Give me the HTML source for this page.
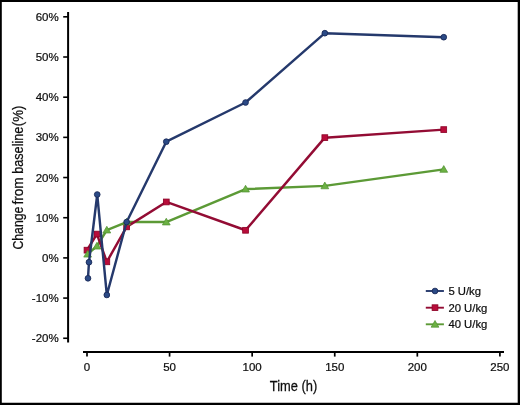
<!DOCTYPE html><html><head><meta charset="utf-8"><style>html,body{margin:0;padding:0;background:#fff}svg{display:block;will-change:transform}text{font-family:"Liberation Sans",sans-serif;fill:#0e0e0e;stroke:#0e0e0e;stroke-width:0.22px}.t{stroke-width:0.25px}</style></head><body>
<svg width="520" height="405" viewBox="0 0 520 405">
<rect x="0" y="0" width="520" height="405" fill="#fff"/>
<path d="M0 0H520V405H0Z M1.8 1.9V402.7H517.7V1.9Z" fill="#000" fill-rule="evenodd"/>
<line x1="68.1" y1="12" x2="68.1" y2="342.6" stroke="#000" stroke-width="2"/>
<line x1="63.2" y1="338.26" x2="68" y2="338.26" stroke="#000" stroke-width="1.6"/>
<text x="58.7" y="342.36" font-size="11.5" text-anchor="end">-20%</text>
<line x1="63.2" y1="298.08" x2="68" y2="298.08" stroke="#000" stroke-width="1.6"/>
<text x="58.7" y="302.18" font-size="11.5" text-anchor="end">-10%</text>
<line x1="63.2" y1="257.90" x2="68" y2="257.90" stroke="#000" stroke-width="1.6"/>
<text x="58.7" y="262.00" font-size="11.5" text-anchor="end">0%</text>
<line x1="63.2" y1="217.72" x2="68" y2="217.72" stroke="#000" stroke-width="1.6"/>
<text x="58.7" y="221.82" font-size="11.5" text-anchor="end">10%</text>
<line x1="63.2" y1="177.54" x2="68" y2="177.54" stroke="#000" stroke-width="1.6"/>
<text x="58.7" y="181.64" font-size="11.5" text-anchor="end">20%</text>
<line x1="63.2" y1="137.36" x2="68" y2="137.36" stroke="#000" stroke-width="1.6"/>
<text x="58.7" y="141.46" font-size="11.5" text-anchor="end">30%</text>
<line x1="63.2" y1="97.18" x2="68" y2="97.18" stroke="#000" stroke-width="1.6"/>
<text x="58.7" y="101.28" font-size="11.5" text-anchor="end">40%</text>
<line x1="63.2" y1="57.00" x2="68" y2="57.00" stroke="#000" stroke-width="1.6"/>
<text x="58.7" y="61.10" font-size="11.5" text-anchor="end">50%</text>
<line x1="63.2" y1="16.82" x2="68" y2="16.82" stroke="#000" stroke-width="1.6"/>
<text x="58.7" y="20.92" font-size="11.5" text-anchor="end">60%</text>
<line x1="83" y1="351.9" x2="504" y2="351.9" stroke="#000" stroke-width="2"/>
<line x1="87.00" y1="352" x2="87.00" y2="356.6" stroke="#000" stroke-width="1.7"/>
<text x="87.00" y="370.8" font-size="11.5" text-anchor="middle">0</text>
<line x1="169.58" y1="352" x2="169.58" y2="356.6" stroke="#000" stroke-width="1.7"/>
<text x="169.58" y="370.8" font-size="11.5" text-anchor="middle">50</text>
<line x1="252.16" y1="352" x2="252.16" y2="356.6" stroke="#000" stroke-width="1.7"/>
<text x="252.16" y="370.8" font-size="11.5" text-anchor="middle">100</text>
<line x1="334.74" y1="352" x2="334.74" y2="356.6" stroke="#000" stroke-width="1.7"/>
<text x="334.74" y="370.8" font-size="11.5" text-anchor="middle">150</text>
<line x1="417.32" y1="352" x2="417.32" y2="356.6" stroke="#000" stroke-width="1.7"/>
<text x="417.32" y="370.8" font-size="11.5" text-anchor="middle">200</text>
<line x1="499.90" y1="352" x2="499.90" y2="356.6" stroke="#000" stroke-width="1.7"/>
<text x="499.90" y="370.8" font-size="11.5" text-anchor="middle">250</text>
<text class="t" x="293.5" y="390.8" font-size="14" text-anchor="middle" transform="translate(293.5 0) scale(0.92 1) translate(-293.5 0)">Time (h)</text>
<text class="t" font-size="14" text-anchor="start" transform="translate(22.8 249.6) rotate(-90) scale(0.878 1)">Change</text>
<text class="t" font-size="14" text-anchor="start" transform="translate(22.8 204.6) rotate(-90) scale(0.978 1)">from</text>
<text class="t" font-size="14" text-anchor="end" transform="translate(22.8 126.6) rotate(-90) scale(0.906 1)">baseline</text>
<text class="t" font-size="14" text-anchor="start" transform="translate(22.8 126.2) rotate(-90) scale(0.95 1)">(%)</text>
<polyline points="87.66,254.18 96.91,246.15 106.82,230.07 126.64,222.04 166.28,222.04 245.55,189.09 324.83,185.88 443.75,169.40" fill="none" stroke="#5c9a36" stroke-width="2.45" stroke-linejoin="round"/>
<polyline points="87.00,250.16 96.91,234.09 106.82,261.82 126.64,226.86 166.28,201.95 245.55,230.27 324.83,137.66 443.75,129.62" fill="none" stroke="#930c34" stroke-width="2.45" stroke-linejoin="round"/>
<rect x="84.10" y="247.26" width="5.8" height="5.8" fill="#b80c3a" stroke="#8a0025" stroke-width="0.8"/>
<rect x="94.01" y="231.19" width="5.8" height="5.8" fill="#b80c3a" stroke="#8a0025" stroke-width="0.8"/>
<rect x="103.92" y="258.92" width="5.8" height="5.8" fill="#b80c3a" stroke="#8a0025" stroke-width="0.8"/>
<rect x="123.74" y="223.96" width="5.8" height="5.8" fill="#b80c3a" stroke="#8a0025" stroke-width="0.8"/>
<rect x="163.38" y="199.05" width="5.8" height="5.8" fill="#b80c3a" stroke="#8a0025" stroke-width="0.8"/>
<rect x="242.65" y="227.37" width="5.8" height="5.8" fill="#b80c3a" stroke="#8a0025" stroke-width="0.8"/>
<rect x="321.93" y="134.76" width="5.8" height="5.8" fill="#b80c3a" stroke="#8a0025" stroke-width="0.8"/>
<rect x="440.85" y="126.72" width="5.8" height="5.8" fill="#b80c3a" stroke="#8a0025" stroke-width="0.8"/>
<polygon points="87.66,250.38 91.56,257.08 83.76,257.08" fill="#6cb143" stroke="#4f8f30" stroke-width="0.7" stroke-linejoin="round"/>
<polygon points="96.91,242.35 100.81,249.05 93.01,249.05" fill="#6cb143" stroke="#4f8f30" stroke-width="0.7" stroke-linejoin="round"/>
<polygon points="106.82,226.27 110.72,232.97 102.92,232.97" fill="#6cb143" stroke="#4f8f30" stroke-width="0.7" stroke-linejoin="round"/>
<polygon points="126.64,218.24 130.54,224.94 122.74,224.94" fill="#6cb143" stroke="#4f8f30" stroke-width="0.7" stroke-linejoin="round"/>
<polygon points="166.28,218.24 170.18,224.94 162.38,224.94" fill="#6cb143" stroke="#4f8f30" stroke-width="0.7" stroke-linejoin="round"/>
<polygon points="245.55,185.29 249.45,191.99 241.65,191.99" fill="#6cb143" stroke="#4f8f30" stroke-width="0.7" stroke-linejoin="round"/>
<polygon points="324.83,182.08 328.73,188.78 320.93,188.78" fill="#6cb143" stroke="#4f8f30" stroke-width="0.7" stroke-linejoin="round"/>
<polygon points="443.75,165.60 447.65,172.30 439.85,172.30" fill="#6cb143" stroke="#4f8f30" stroke-width="0.7" stroke-linejoin="round"/>
<polyline points="87.99,278.29 88.98,262.22 97.24,194.51 106.82,294.96 126.64,222.04 166.28,141.68 245.55,102.50 324.83,33.19 443.75,37.21" fill="none" stroke="#25396c" stroke-width="2.45" stroke-linejoin="round"/>
<circle cx="87.99" cy="278.29" r="2.85" fill="#2b4a86" stroke="#1b2a58" stroke-width="0.9"/>
<circle cx="88.98" cy="262.22" r="2.85" fill="#2b4a86" stroke="#1b2a58" stroke-width="0.9"/>
<circle cx="97.24" cy="194.51" r="2.85" fill="#2b4a86" stroke="#1b2a58" stroke-width="0.9"/>
<circle cx="106.82" cy="294.96" r="2.85" fill="#2b4a86" stroke="#1b2a58" stroke-width="0.9"/>
<circle cx="126.64" cy="222.04" r="2.85" fill="#2b4a86" stroke="#1b2a58" stroke-width="0.9"/>
<circle cx="166.28" cy="141.68" r="2.85" fill="#2b4a86" stroke="#1b2a58" stroke-width="0.9"/>
<circle cx="245.55" cy="102.50" r="2.85" fill="#2b4a86" stroke="#1b2a58" stroke-width="0.9"/>
<circle cx="324.83" cy="33.19" r="2.85" fill="#2b4a86" stroke="#1b2a58" stroke-width="0.9"/>
<circle cx="443.75" cy="37.21" r="2.85" fill="#2b4a86" stroke="#1b2a58" stroke-width="0.9"/>
<line x1="425.8" y1="291.00" x2="443.9" y2="291.00" stroke="#25396c" stroke-width="1.9"/>
<circle cx="435.00" cy="291.00" r="2.85" fill="#2b4a86" stroke="#1b2a58" stroke-width="0.9"/>
<text x="448.4" y="294.80" font-size="11.3">5 U/kg</text>
<line x1="425.8" y1="307.70" x2="443.9" y2="307.70" stroke="#930c34" stroke-width="1.9"/>
<rect x="432.10" y="304.80" width="5.8" height="5.8" fill="#b80c3a" stroke="#8a0025" stroke-width="0.8"/>
<text x="448.4" y="311.50" font-size="11.3">20 U/kg</text>
<line x1="425.8" y1="324.30" x2="443.9" y2="324.30" stroke="#5c9a36" stroke-width="1.9"/>
<polygon points="435.00,320.50 438.90,327.20 431.10,327.20" fill="#6cb143" stroke="#4f8f30" stroke-width="0.7" stroke-linejoin="round"/>
<text x="448.4" y="328.10" font-size="11.3">40 U/kg</text>
</svg></body></html>
